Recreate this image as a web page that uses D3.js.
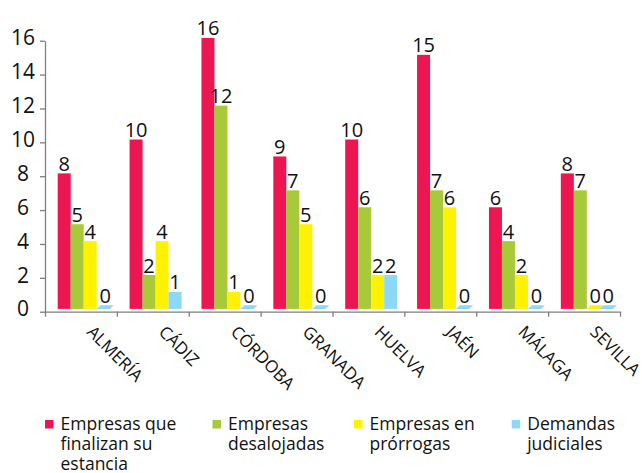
<!DOCTYPE html>
<html>
<head>
<meta charset="utf-8">
<script src="https://cdn.jsdelivr.net/npm/d3@7"></script>
<style>
  html, body { margin: 0; padding: 0; background: #ffffff; }
  svg { display: block; font-family: "Open Sans", "DejaVu Sans", sans-serif; }
</style>
</head>
<body>
<svg id="chart" width="642" height="473"></svg>
<script>
const categories = ["ALMERÍA", "CÁDIZ", "CÓRDOBA", "GRANADA", "HUELVA", "JAÉN", "MÁLAGA", "SEVILLA"];
const seriesKeys = ["finalizan", "desalojadas", "prorrogas", "demandas"];
const seriesLabels = [
  ["Empresas que", "finalizan su", "estancia"],
  ["Empresas", "desalojadas"],
  ["Empresas en", "prórrogas"],
  ["Demandas", "judiciales"]
];
const finalizan   = [8, 10, 16, 9, 10, 15, 6, 8];
const desalojadas = [5, 2, 12, 7, 6, 7, 4, 7];
const prorrogas   = [4, 4, 1, 5, 2, 6, 2, 0];
const demandas    = [0, 1, 0, 0, 2, 0, 0, 0];
const yTickValues = [0, 2, 4, 6, 8, 10, 12, 14, 16];
const colors = ["#EE1652", "#A8CA3A", "#FFF200", "#8ED8F7"];

const values = { finalizan, desalojadas, prorrogas, demandas };

const svg = d3.select("#chart");

const x0 = d3.scaleBand().domain(categories).range([45, 620]).padding(0);
const x1 = d3.scaleBand().domain(seriesKeys).range([12.7, 64.7]).padding(0);
const y = d3.scaleLinear().domain([0, 16]).range([311.7, 40.7]);
const color = d3.scaleOrdinal().domain(seriesKeys).range(colors);
const lift = 2.8;      // 3D floor offset of bars
const skew = 4;        // zero-slab skew
const slabH = 3.7;

const rows = [];
categories.forEach((c, i) => {
  seriesKeys.forEach(k => rows.push({ cat: c, key: k, value: values[k][i] }));
});

// bars
const g = svg.append("g");
rows.filter(d => d.value > 0).forEach(d => {
  g.append("rect")
    .attr("x", x0(d.cat) + x1(d.key))
    .attr("width", x1.bandwidth())
    .attr("y", y(d.value) - lift)
    .attr("height", y(0) - y(d.value))
    .attr("fill", color(d.key));
});
// zero slabs
rows.filter(d => d.value === 0).forEach(d => {
  const x = x0(d.cat) + x1(d.key);
  const w = x1.bandwidth();
  const yb = y(0) - lift;
  g.append("path")
    .attr("d", `M${x},${yb}L${x + w},${yb}L${x + w + skew},${yb - slabH}L${x + skew},${yb - slabH}Z`)
    .attr("fill", color(d.key));
});

// value labels
rows.forEach(d => {
  const cx = x0(d.cat) + x1(d.key) + x1.bandwidth() / 2 + (d.value === 0 ? skew / 2 : 0);
  const top = d.value === 0 ? y(0) - lift - slabH : y(d.value) - lift;
  svg.append("text")
    .attr("x", cx)
    .attr("y", top - 2.5)
    .attr("text-anchor", "middle")
    .attr("font-size", 20)
    .attr("fill", "#111")
    .text(d.value);
});

// y axis
const yAxis = svg.append("g")
  .attr("transform", "translate(45,0)")
  .call(d3.axisLeft(y).tickValues(yTickValues).tickSize(5).tickSizeOuter(0));
yAxis.select(".domain").attr("stroke", "#7f7f7f").attr("stroke-width", 1.3);
yAxis.selectAll(".tick line").attr("stroke", "#7f7f7f").attr("stroke-width", 1.3);
yAxis.selectAll(".tick text")
  .attr("x", -22).attr("dy", "0.2em")
  .attr("text-anchor", "middle")
  .attr("font-size", 21)
  .attr("font-family", "'Open Sans', sans-serif")
  .attr("fill", "#111");

// x axis (ticks at category boundaries)
const xb = d3.scaleLinear().domain([0, categories.length]).range(x0.range());
const xAxis = svg.append("g")
  .attr("transform", `translate(0,${y(0)})`)
  .call(d3.axisBottom(xb).tickValues(d3.range(categories.length + 1)).tickFormat("").tickSize(5).tickSizeOuter(0));
xAxis.select(".domain").attr("stroke", "#7f7f7f").attr("stroke-width", 1.3);
xAxis.selectAll(".tick line").attr("stroke", "#7f7f7f").attr("stroke-width", 1.3);

// category labels
categories.forEach(c => {
  const cx = x0(c) + x0.bandwidth() / 2 + 5;
  svg.append("text")
    .attr("transform", `translate(${cx},333) rotate(45)`)
    .attr("font-size", 17)
    .attr("fill", "#111")
    .text(c);
});

// legend
const legendX = [45, 212.5, 354, 511.7];
seriesKeys.forEach((k, i) => {
  svg.append("rect")
    .attr("x", legendX[i]).attr("y", 420)
    .attr("width", 8.5).attr("height", 8.5)
    .attr("fill", color(k));
  const t = svg.append("text")
    .attr("x", legendX[i] + 15.5)
    .attr("y", 429.5)
    .attr("font-size", 17.5)
    .attr("fill", "#111");
  seriesLabels[i].forEach((line, j) => {
    t.append("tspan").attr("x", legendX[i] + 15.5).attr("y", 429.5 + j * 20).text(line);
  });
});
</script>
</body>
</html>
